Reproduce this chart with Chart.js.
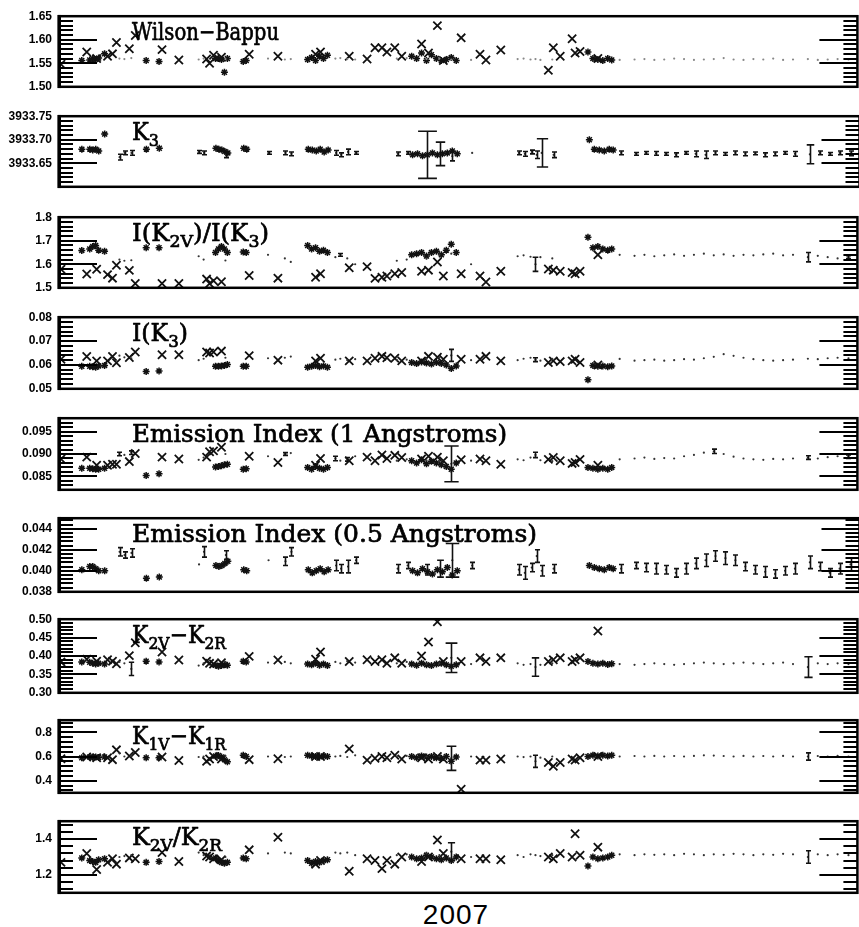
<!DOCTYPE html>
<html>
<head>
<meta charset="utf-8">
<title>Ca II K indices 2007</title>
<script src="https://cdn.jsdelivr.net/npm/chart.js@4.4.1/dist/chart.umd.min.js"></script>
<style>
  html, body { margin: 0; padding: 0; background: #fff; overflow: hidden; }
  #page { position: relative; width: 859px; height: 927px; overflow: hidden; }
  #page canvas { position: absolute; left: 0; }
  #year { position: absolute; left: 0; width: 912px; top: 899px; line-height: 32px; text-align: center;
          font: 28px 'Liberation Sans', Arial, sans-serif; letter-spacing: 1px; color: #000; }
</style>
</head>
<body>
<div id="page"><div id="year">2007</div></div>
<script>
// x positions (days), shared by every panel
const crossDay = [1, 14, 19, 24.5, 27, 29, 35.5, 38.5, 52, 60.5, 74.5, 76, 78, 82, 96, 110.5,
  129.5, 132, 146.5, 155.5, 159.5, 163, 165.5, 169.5, 173, 183, 186.5, 191, 194, 203, 212.5, 215.5, 223, 247, 249.5, 253, 259, 260.5, 263, 272];
const starDay = [11.5, 15.5, 17, 18.5, 20, 23, 44, 50.5, 79, 80.5, 82, 83.5, 85, 93, 94.5,
  125.5, 127.5, 129.5, 131.5, 133.5, 135.5,
  178, 180.5, 183, 185.5, 188, 190.5, 193, 195.5, 198, 200.5,
  267, 269.5, 272, 274.5, 277, 279];
const dotDay = [30.5, 33, 36.5, 70.5, 73, 84, 105.5, 114, 117,
  139.5, 142, 145.5, 149.5,
  170.5, 175.5, 185.5, 192, 198, 208,
  231.5, 234.5, 238, 240.5, 243, 249,
  283, 290.5, 295.5, 300.5, 305.5, 310.5, 315.5, 320.5, 325.5, 330.5, 335.5, 340.5, 345.5, 350.5, 355.5, 360.5, 365.5, 370.5, 378, 383, 388, 393, 398.5];

// Wilson-Bappu
const wbTicks = [1.50, 1.55, 1.60, 1.65];
const wbCross = [1.548, 1.574, 1.560, 1.565, 1.570, 1.594, 1.581, 1.609, 1.579, 1.557, 1.559, 1.550, 1.567, 1.563, 1.569, 1.565,
  1.569, 1.574, 1.565, 1.559, 1.583, 1.583, 1.574, 1.583, 1.565, 1.591, 1.572, 1.630, 1.556, 1.604, 1.569, 1.557, 1.578, 1.535, 1.583, 1.565, 1.602, 1.572, 1.575, 1.560];
const wbStar = [1.556, 1.557, 1.560, 1.558, 1.561, 1.570, 1.556, 1.554, 1.560, 1.560, 1.558, 1.531, 1.560, 1.554, 1.556,
  1.558, 1.562, 1.556, 1.565, 1.560, 1.567,
  1.565, 1.560, 1.572, 1.556, 1.568, 1.560, 1.556, 1.558, 1.562, 1.556,
  1.574, 1.560, 1.558, 1.556, 1.560, 1.557];
const wbDot = [1.560, 1.559, 1.561, 1.558, 1.560, 1.559, 1.560, 1.558, 1.559,
  1.560, 1.561, 1.559, 1.558,
  1.560, 1.561, 1.559, 1.560, 1.558, 1.557,
  1.559, 1.560, 1.558, 1.559, 1.557, 1.558,
  1.557, 1.558, 1.559, 1.557, 1.558, 1.560, 1.559, 1.557, 1.558, 1.559, 1.561, 1.558, 1.557, 1.559, 1.558, 1.560, 1.557, 1.558, 1.559, 1.557, 1.558, 1.559, 1.558];

// K3
const k3Ticks = [3933.65, 3933.70, 3933.75];
const k3Star = [3933.680, 3933.680, 3933.678, 3933.680, 3933.676, 3933.712, 3933.680, 3933.682, 3933.682, 3933.680, 3933.678, 3933.675, 3933.672, 3933.682, 3933.680,
  3933.680, 3933.678, 3933.676, 3933.680, 3933.674, 3933.678,
  3933.668, 3933.670, 3933.666, 3933.668, 3933.672, 3933.668, 3933.670, 3933.672, 3933.676, 3933.670,
  3933.700, 3933.680, 3933.678, 3933.676, 3933.680, 3933.678];
const k3Dot = [3933.663, 3933.672, 3933.672, 3933.674, 3933.672, 3933.668, 3933.672, 3933.672, 3933.670,
  3933.672, 3933.668, 3933.674, 3933.672,
  3933.670, 3933.672, 3933.668, 3933.670, 3933.665, 3933.672,
  3933.672, 3933.670, 3933.674, 3933.668, 3933.672, 3933.668,
  3933.672, 3933.670, 3933.672, 3933.671, 3933.670, 3933.668, 3933.672, 3933.670, 3933.668, 3933.672, 3933.670, 3933.672, 3933.670, 3933.671, 3933.668, 3933.670, 3933.672, 3933.670, 3933.669, 3933.672, 3933.670, 3933.672, 3933.671];
const k3Err = [0.006, 0.004, 0.005, 0.003, 0.004, 0.006, 0.003, 0.004, 0.004,
  0.005, 0.004, 0.006, 0.003,
  0.004, 0.003, 0.05, 0.025, 0.01, 0,
  0.004, 0.005, 0.004, 0.008, 0.03, 0.006,
  0.004, 0.003, 0.003, 0.004, 0.003, 0.004, 0.003, 0.006, 0.008, 0.004, 0.003, 0.004, 0.004, 0.003, 0.004, 0.004, 0.003, 0.005, 0.02, 0.004, 0.003, 0.004, 0.005];

// I(K2V)/I(K3)
const ik2Ticks = [1.5, 1.6, 1.7, 1.8];
const ik2Cross = [1.579, 1.559, 1.579, 1.556, 1.541, 1.596, 1.574, 1.518, 1.518, 1.518, 1.537, 1.518, 1.530, 1.526, 1.552, 1.541,
  1.545, 1.560, 1.585, 1.590, 1.540, 1.545, 1.550, 1.560, 1.565, 1.570, 1.575, 1.610, 1.550, 1.560, 1.550, 1.525, 1.570, 1.580, 1.575, 1.570, 1.565, 1.560, 1.570, 1.640];
const ik2Star = [1.659, 1.665, 1.675, 1.680, 1.660, 1.655, 1.670, 1.670, 1.650, 1.665, 1.675, 1.665, 1.650, 1.652, 1.650,
  1.680, 1.665, 1.670, 1.655, 1.660, 1.650,
  1.640, 1.645, 1.650, 1.635, 1.650, 1.655, 1.640, 1.660, 1.685, 1.650,
  1.715, 1.670, 1.675, 1.665, 1.660, 1.665];
const ik2Dot = [1.620, 1.615, 1.617, 1.634, 1.620, 1.616, 1.640, 1.625, 1.610,
  1.630, 1.640, 1.625, 1.600,
  1.615, 1.620, 1.625, 1.640, 1.645, 1.600,
  1.634, 1.638, 1.632, 1.600, 1.630, 1.625,
  1.640, 1.636, 1.640, 1.634, 1.638, 1.642, 1.636, 1.640, 1.645, 1.638, 1.642, 1.636, 1.640, 1.638, 1.642, 1.645, 1.638, 1.640, 1.630, 1.636, 1.630, 1.625, 1.630];
const ik2Err = [0, 0, 0, 0, 0, 0, 0, 0, 0,
  0, 0.006, 0, 0,
  0, 0, 0, 0, 0, 0,
  0, 0, 0, 0.03, 0, 0,
  0, 0, 0, 0, 0, 0, 0, 0, 0, 0, 0, 0, 0, 0, 0, 0, 0, 0, 0.02, 0, 0, 0, 0.006];

// I(K3)
const ik3Ticks = [0.05, 0.06, 0.07, 0.08];
const ik3Cross = [0.0624, 0.0635, 0.0617, 0.0617, 0.0635, 0.0609, 0.0631, 0.0654, 0.0643, 0.0643, 0.0654, 0.0650, 0.0654, 0.0658, 0.0639, 0.0620,
  0.0617, 0.0628, 0.0617, 0.0617, 0.0628, 0.0636, 0.0630, 0.0628, 0.0617, 0.0617, 0.0636, 0.0632, 0.0624, 0.0624, 0.0624, 0.0636, 0.0617, 0.0610, 0.0617, 0.0614, 0.0617, 0.0624, 0.0610, 0.0600];
const ik3Star = [0.0594, 0.0594, 0.0592, 0.0590, 0.0596, 0.0598, 0.0572, 0.0575, 0.0594, 0.0594, 0.0596, 0.0598, 0.0602, 0.0594, 0.0594,
  0.0590, 0.0594, 0.0598, 0.0592, 0.0596, 0.0590,
  0.0610, 0.0606, 0.0612, 0.0608, 0.0604, 0.0610, 0.0606, 0.0600, 0.0585, 0.0596,
  0.0538, 0.0598, 0.0594, 0.0596, 0.0592, 0.0596];
const ik3Dot = [0.0639, 0.0632, 0.0628, 0.0620, 0.0626, 0.0630, 0.0628, 0.0630, 0.0635,
  0.0622, 0.0626, 0.0620, 0.0624,
  0.0620, 0.0622, 0.0626, 0.0630, 0.0640, 0.0620,
  0.0620, 0.0626, 0.0630, 0.0622, 0.0618, 0.0625,
  0.0625, 0.0618, 0.0620, 0.0622, 0.0618, 0.0620, 0.0624, 0.0622, 0.0628, 0.0634, 0.0645, 0.0638, 0.0630, 0.0624, 0.0620, 0.0618, 0.0620, 0.0622, 0.0626, 0.0624, 0.0628, 0.0630, 0.0628];
const ik3Err = [0, 0, 0, 0, 0, 0, 0, 0, 0,
  0, 0, 0, 0,
  0, 0, 0, 0, 0.0025, 0,
  0, 0, 0, 0.0008, 0, 0,
  0, 0, 0, 0, 0, 0, 0, 0, 0, 0, 0, 0, 0, 0, 0, 0, 0, 0, 0, 0, 0, 0, 0];

// Emission Index (1 A)
const ei1Ticks = [0.085, 0.090, 0.095];
const ei1Cross = [0.0889, 0.0893, 0.0875, 0.0875, 0.0877, 0.0877, 0.0883, 0.0901, 0.0893, 0.0889, 0.0893, 0.0905, 0.0907, 0.0915, 0.0895, 0.0881,
  0.0875, 0.0890, 0.0885, 0.0893, 0.0885, 0.0898, 0.0890, 0.0897, 0.0892, 0.0889, 0.0895, 0.0893, 0.0885, 0.0887, 0.0889, 0.0885, 0.0877, 0.0888, 0.0892, 0.0885, 0.0879, 0.0881, 0.0888, 0.0875];
const ei1Star = [0.0868, 0.0868, 0.0867, 0.0866, 0.0866, 0.0868, 0.0852, 0.0856, 0.0871, 0.0872, 0.0874, 0.0876, 0.0877, 0.0866, 0.0867,
  0.0870, 0.0866, 0.0872, 0.0868, 0.0866, 0.0870,
  0.0885, 0.0880, 0.0887, 0.0878, 0.0884, 0.0880, 0.0876, 0.0872, 0.0866, 0.0880,
  0.0870, 0.0868, 0.0866, 0.0868, 0.0866, 0.0870];
const ei1Dot = [0.0900, 0.0898, 0.0903, 0.0887, 0.0892, 0.0900, 0.0895, 0.0900, 0.0902,
  0.0890, 0.0885, 0.0888, 0.0895,
  0.0885, 0.0888, 0.0886, 0.0884, 0.0878, 0.0885,
  0.0888, 0.0886, 0.0892, 0.0898, 0.0886, 0.0884,
  0.0888, 0.0890, 0.0892, 0.0889, 0.0891, 0.0890, 0.0895, 0.0898, 0.0903, 0.0906, 0.0900, 0.0894, 0.0890, 0.0888, 0.0887, 0.0889, 0.0888, 0.0890, 0.0892, 0.0890, 0.0893, 0.0895, 0.0894];
const ei1Err = [0.0004, 0, 0.0004, 0, 0, 0, 0, 0.0003, 0,
  0.0005, 0, 0.0004, 0,
  0, 0, 0, 0, 0.004, 0,
  0, 0, 0, 0.0006, 0, 0,
  0, 0, 0, 0, 0, 0, 0, 0, 0, 0.0005, 0, 0, 0, 0, 0, 0, 0, 0, 0.0004, 0, 0, 0, 0.0004];

// Emission Index (0.5 A)
const ei05Ticks = [0.038, 0.040, 0.042, 0.044];
const ei05Star = [0.0401, 0.0404, 0.0404, 0.0402, 0.0400, 0.0400, 0.0393, 0.0394, 0.0405, 0.0404, 0.0405, 0.0407, 0.0409, 0.0401, 0.0400,
  0.0401, 0.0398, 0.0400, 0.0402, 0.0399, 0.0401,
  0.0400, 0.0398, 0.0402, 0.0399, 0.0397, 0.0401, 0.0399, 0.0403, 0.0396, 0.0400,
  0.0405, 0.0403, 0.0402, 0.0401, 0.0403, 0.0402];
const ei05Dot = [0.0418, 0.0415, 0.0417, 0.0406, 0.0418, 0.0415, 0.0410, 0.0409, 0.0418,
  0.0405, 0.0402, 0.0404, 0.0410,
  0.0402, 0.0405, 0.0401, 0.0402, 0.0410, 0.0405,
  0.0401, 0.0398, 0.0403, 0.0414, 0.0400, 0.0402,
  0.0402, 0.0405, 0.0403, 0.0402, 0.0401, 0.0398, 0.0402, 0.0407, 0.0410, 0.0414, 0.0412, 0.0410, 0.0404, 0.0401, 0.0399, 0.0397, 0.0400, 0.0402, 0.0408, 0.0404, 0.0398, 0.0402, 0.0406];
const ei05Err = [0.0004, 0.0003, 0.0004, 0, 0.0005, 0.0004, 0, 0.0004, 0.0004,
  0.0005, 0.0004, 0.0006, 0.0003,
  0.0004, 0.0003, 0.0005, 0.0008, 0.0016, 0.0003,
  0.0005, 0.0006, 0.0004, 0.0006, 0.0005, 0.0004,
  0.0004, 0.0003, 0.0004, 0.0005, 0.0004, 0.0004, 0.0005, 0.0005, 0.0006, 0.0005, 0.0006, 0.0005, 0.0004, 0.0004, 0.0005, 0.0004, 0.0004, 0.0005, 0.0006, 0.0004, 0.0004, 0.0005, 0.0006];

// K2V - K2R
const k2dTicks = [0.30, 0.35, 0.40, 0.45, 0.50];
const k2dCross = [0.384, 0.391, 0.386, 0.390, 0.386, 0.379, 0.401, 0.436, 0.411, 0.389, 0.386, 0.380, 0.378, 0.382, 0.399, 0.389,
  0.391, 0.411, 0.385, 0.390, 0.385, 0.390, 0.380, 0.395, 0.380, 0.400, 0.438, 0.493, 0.385, 0.385, 0.395, 0.385, 0.395, 0.385, 0.390, 0.395, 0.385, 0.390, 0.395, 0.468];
const k2dStar = [0.384, 0.383, 0.380, 0.378, 0.380, 0.378, 0.386, 0.384, 0.375, 0.372, 0.374, 0.376, 0.375, 0.386, 0.384,
  0.378, 0.376, 0.380, 0.375, 0.378, 0.374,
  0.378, 0.375, 0.380, 0.376, 0.374, 0.378, 0.380, 0.376, 0.372, 0.376,
  0.385, 0.380, 0.378, 0.380, 0.377, 0.379];
const k2dDot = [0.384, 0.380, 0.365, 0.374, 0.380, 0.384, 0.382, 0.384, 0.380,
  0.384, 0.380, 0.386, 0.382,
  0.380, 0.384, 0.378, 0.380, 0.395, 0.378,
  0.380, 0.376, 0.378, 0.370, 0.376, 0.380,
  0.378, 0.376, 0.378, 0.380, 0.378, 0.376, 0.378, 0.380, 0.382, 0.380, 0.378, 0.380, 0.382, 0.380, 0.378, 0.380, 0.382, 0.378, 0.370, 0.380, 0.378, 0.380, 0.378];
const k2dErr = [0, 0, 0.018, 0, 0, 0, 0, 0, 0,
  0, 0, 0, 0,
  0, 0, 0, 0, 0.04, 0,
  0, 0, 0, 0.025, 0, 0,
  0, 0, 0, 0, 0, 0, 0, 0, 0, 0, 0, 0, 0, 0, 0, 0, 0, 0, 0.028, 0, 0, 0, 0];

// K1V - K1R
const k1dTicks = [0.4, 0.6, 0.8];
const k1dCross = [0.581, 0.596, 0.590, 0.590, 0.574, 0.655, 0.604, 0.633, 0.596, 0.567, 0.560, 0.580, 0.600, 0.580, 0.574, 0.581,
  0.600, 0.600, 0.663, 0.570, 0.585, 0.600, 0.590, 0.610, 0.580, 0.590, 0.580, 0.600, 0.580, 0.330, 0.570, 0.570, 0.580, 0.550, 0.520, 0.550, 0.580, 0.570, 0.590, 0.600];
const k1dStar = [0.589, 0.596, 0.593, 0.596, 0.592, 0.596, 0.589, 0.589, 0.604, 0.608, 0.596, 0.574, 0.556, 0.611, 0.600,
  0.610, 0.605, 0.600, 0.598, 0.604, 0.600,
  0.600, 0.590, 0.605, 0.595, 0.600, 0.590, 0.585, 0.600, 0.560, 0.595,
  0.600, 0.610, 0.605, 0.610, 0.605, 0.610];
const k1dDot = [0.626, 0.600, 0.610, 0.596, 0.600, 0.605, 0.600, 0.596, 0.600,
  0.600, 0.605, 0.596, 0.610,
  0.600, 0.605, 0.600, 0.600, 0.585, 0.600,
  0.600, 0.595, 0.600, 0.560, 0.590, 0.600,
  0.600, 0.604, 0.600, 0.605, 0.600, 0.604, 0.600, 0.605, 0.610, 0.608, 0.604, 0.600, 0.605, 0.600, 0.604, 0.600, 0.605, 0.600, 0.600, 0.604, 0.600, 0.605, 0.600];
const k1dErr = [0, 0, 0, 0, 0, 0, 0, 0, 0,
  0, 0, 0, 0,
  0, 0, 0, 0, 0.10, 0,
  0, 0, 0, 0.05, 0, 0,
  0, 0, 0, 0, 0, 0, 0, 0, 0, 0, 0, 0, 0, 0, 0, 0, 0, 0, 0.03, 0, 0, 0, 0];

// K2V / K2R
const k2rTicks = [1.2, 1.4];
const k2rCross = [1.270, 1.320, 1.230, 1.270, 1.290, 1.260, 1.295, 1.290, 1.325, 1.275, 1.305, 1.300, 1.290, 1.285, 1.340, 1.410,
  1.260, 1.280, 1.220, 1.290, 1.280, 1.235, 1.280, 1.260, 1.300, 1.275, 1.300, 1.395, 1.320, 1.290, 1.290, 1.290, 1.285, 1.300, 1.290, 1.320, 1.300, 1.430, 1.310, 1.355];
const k2rStar = [1.295, 1.280, 1.275, 1.270, 1.285, 1.290, 1.270, 1.275, 1.295, 1.280, 1.270, 1.265, 1.270, 1.295, 1.290,
  1.280, 1.265, 1.275, 1.270, 1.280, 1.285,
  1.300, 1.290, 1.295, 1.310, 1.300, 1.290, 1.285, 1.295, 1.280, 1.300,
  1.250, 1.300, 1.290, 1.295, 1.300, 1.310];
const k2rDot = [1.300, 1.305, 1.310, 1.325, 1.310, 1.300, 1.320, 1.325, 1.320,
  1.325, 1.320, 1.325, 1.310,
  1.310, 1.315, 1.320, 1.310, 1.330, 1.300,
  1.310, 1.300, 1.315, 1.310, 1.305, 1.310,
  1.315, 1.310, 1.315, 1.312, 1.315, 1.310, 1.318, 1.315, 1.310, 1.315, 1.312, 1.318, 1.315, 1.310, 1.315, 1.312, 1.318, 1.315, 1.300, 1.315, 1.310, 1.315, 1.310];
const k2rErr = [0, 0, 0, 0, 0, 0, 0, 0, 0,
  0, 0, 0, 0,
  0, 0, 0, 0, 0.05, 0,
  0, 0, 0, 0, 0, 0,
  0, 0, 0, 0, 0, 0, 0, 0, 0, 0, 0, 0, 0, 0, 0, 0, 0, 0, 0.035, 0, 0, 0, 0];

// titles: [text, subscript?]
const wbTitle = [['Wilson\u2212Bappu', 0]];
const k3Title = [['K', 0], ['3', 1]];
const ik2Title = [['I(K', 0], ['2V', 1], [')/I(K', 0], ['3', 1], [')', 0]];
const ik3Title = [['I(K', 0], ['3', 1], [')', 0]];
const ei1Title = [['Emission Index (1 Angstroms)', 0]];
const ei05Title = [['Emission Index (0.5 Angstroms)', 0]];
const k2dTitle = [['K', 0], ['2V', 1], ['\u2212K', 0], ['2R', 1]];
const k1dTitle = [['K', 0], ['1V', 1], ['\u2212K', 0], ['1R', 1]];
const k2rTitle = [['K', 0], ['2V', 1], ['/K', 0], ['2R', 1]];

const panels = [
  { title: wbTitle, tw: 147, top: 12, bottom: 91, min: 1.50, max: 1.65, ticks: wbTicks, dec: 2, minor: 0.01, cross: wbCross, star: wbStar, dot: wbDot, err: null, dotColor: '#888' },
  { title: k3Title, tw: 27, top: 112, bottom: 191, min: 3933.60, max: 3933.75, ticks: k3Ticks, dec: 2, minor: 0.01, cross: null, star: k3Star, dot: k3Dot, err: k3Err },
  { title: ik2Title, tw: 137, top: 213, bottom: 292, min: 1.5, max: 1.8, ticks: ik2Ticks, dec: 1, minor: 0.02, cross: ik2Cross, star: ik2Star, dot: ik2Dot, err: ik2Err },
  { title: ik3Title, tw: 56, top: 313, bottom: 393, min: 0.05, max: 0.08, ticks: ik3Ticks, dec: 2, minor: 0.002, cross: ik3Cross, star: ik3Star, dot: ik3Dot, err: ik3Err },
  { title: ei1Title, tw: 375, top: 414, bottom: 494, min: 0.082, max: 0.098, ticks: ei1Ticks, dec: 3, minor: 0.001, cross: ei1Cross, star: ei1Star, dot: ei1Dot, err: ei1Err },
  { title: ei05Title, tw: 405, top: 514, bottom: 596, min: 0.038, max: 0.045, ticks: ei05Ticks, dec: 3, minor: 0.0004, cross: null, star: ei05Star, dot: ei05Dot, err: ei05Err },
  { title: k2dTitle, tw: 94, top: 615, bottom: 697, min: 0.30, max: 0.50, ticks: k2dTicks, dec: 2, minor: 0.01, cross: k2dCross, star: k2dStar, dot: k2dDot, err: k2dErr },
  { title: k1dTitle, tw: 94, top: 716, bottom: 797, min: 0.3, max: 0.9, ticks: k1dTicks, dec: 1, minor: 0.04, cross: k1dCross, star: k1dStar, dot: k1dDot, err: k1dErr },
  { title: k2rTitle, tw: 90, top: 817, bottom: 897, min: 1.1, max: 1.5, ticks: k2rTicks, dec: 1, minor: 0.04, cross: k2rCross, star: k2rStar, dot: k2rDot, err: k2rErr }
];

const PAD = 10;

function line(ctx, x1, y1, x2, y2) {
  ctx.beginPath();
  ctx.moveTo(x1, y1);
  ctx.lineTo(x2, y2);
  ctx.stroke();
}

const panelPlugin = {
  id: 'panel',
  afterDatasetsDraw(chart, args, p) {
    if (!p.err) return;
    const { ctx, chartArea: a } = chart;
    const x = chart.scales.x, y = chart.scales.y;
    ctx.save();
    ctx.beginPath();
    ctx.rect(a.left, a.top, a.right - a.left, a.bottom - a.top);
    ctx.clip();
    ctx.strokeStyle = '#111';
    ctx.lineWidth = 1.6;
    p.dot.forEach((v, i) => {
      const e = p.err[i];
      if (!e) return;
      const px = Math.round(x.getPixelForValue(dotDay[i])) + 0.5;
      const y1 = y.getPixelForValue(v - e), y2 = y.getPixelForValue(v + e);
      const h = Math.max(2.5, Math.min(11, (y1 - y2) * 0.2));
      line(ctx, px, y1, px, y2);
      line(ctx, px - h, y1, px + h, y1);
      line(ctx, px - h, y2, px + h, y2);
    });
    ctx.restore();
  },
  afterDraw(chart, args, p) {
    const { ctx, chartArea: a } = chart;
    const y = chart.scales.y;
    ctx.save();
    ctx.strokeStyle = '#000';
    ctx.fillStyle = '#000';

    // minor ticks, both sides
    ctx.lineWidth = 2;
    const k0 = Math.ceil(p.min / p.minor - 1e-6), k1 = Math.floor(p.max / p.minor + 1e-6);
    for (let k = k0; k <= k1; k++) {
      const py = Math.round(y.getPixelForValue(k * p.minor));
      line(ctx, a.left, py, a.left + 14, py);
      line(ctx, a.right - 14, py, a.right, py);
    }
    // major ticks at labelled values inside the box
    p.ticks.filter(v => v > p.min + 1e-9 && v < p.max - 1e-9).forEach(v => {
      const py = Math.round(y.getPixelForValue(v));
      line(ctx, a.left, py, a.left + 38, py);
      line(ctx, a.right - 38, py, a.right, py);
    });

    // frame
    ctx.lineWidth = 2.5;
    ctx.strokeRect(a.left, a.top, a.right - a.left, a.bottom - a.top);
    ctx.fillRect(a.left - 1.5, a.top - 1.25, 3.5, a.bottom - a.top + 2.5);

    // title with subscripts
    const big = "24px 'DejaVu Serif', serif", small = "17px 'DejaVu Serif', serif";
    let w = 0;
    p.title.forEach(([t, sub]) => { ctx.font = sub ? small : big; w += ctx.measureText(t).width; });
    const sx = p.tw / w;
    ctx.translate(132, a.top + 24);
    ctx.scale(sx, 1);
    ctx.textBaseline = 'alphabetic';
    ctx.textAlign = 'left';
    ctx.lineWidth = 0.7;
    ctx.lineJoin = 'round';
    let cx = 0;
    p.title.forEach(([t, sub]) => {
      ctx.font = sub ? small : big;
      const ty = sub ? 6 : 0;
      ctx.fillText(t, cx, ty);
      ctx.strokeText(t, cx, ty);
      cx += ctx.measureText(t).width;
    });
    ctx.restore();
  }
};

const page = document.getElementById('page');

panels.forEach(p => {
  const cv = document.createElement('canvas');
  cv.width = 865;
  cv.height = p.bottom - p.top + 2 * PAD;
  cv.style.top = (p.top - PAD) + 'px';
  page.appendChild(cv);

  const datasets = [{
    data: dotDay.map((d, i) => ({ x: d, y: p.dot[i] })),
    pointStyle: 'circle', pointRadius: 1.1, borderWidth: 0,
    backgroundColor: p.dotColor || '#333'
  }, {
    data: starDay.map((d, i) => ({ x: d, y: p.star[i] })),
    pointStyle: 'star', pointRadius: 3.5, borderWidth: 1.5, borderColor: '#111'
  }];
  if (p.cross) {
    datasets.push({
      data: crossDay.map((d, i) => ({ x: d, y: p.cross[i] })),
      pointStyle: 'crossRot', pointRadius: 5.8, borderWidth: 1.8, borderColor: '#111'
    });
  }

  new Chart(cv, {
    type: 'scatter',
    data: { datasets },
    options: {
      responsive: false,
      animation: false,
      events: [],
      layout: { padding: { top: PAD, bottom: PAD, left: 0, right: 0 } },
      plugins: { legend: { display: false }, tooltip: { enabled: false }, panel: p },
      scales: {
        x: { type: 'linear', min: 0, max: 403, display: false },
        y: {
          type: 'linear', min: p.min, max: p.max,
          afterFit: s => { s.width = 59; },
          afterBuildTicks: s => { s.ticks = p.ticks.map(v => ({ value: v })); },
          grid: { display: false, drawTicks: false },
          border: { display: false },
          ticks: {
            padding: 7, autoSkip: false, color: '#000',
            font: { family: "'Liberation Sans', Arial, sans-serif", size: 12, weight: 'bold' },
            callback: v => Number(v).toFixed(p.dec)
          }
        }
      }
    },
    plugins: [panelPlugin]
  });
});
</script>
</body>
</html>
